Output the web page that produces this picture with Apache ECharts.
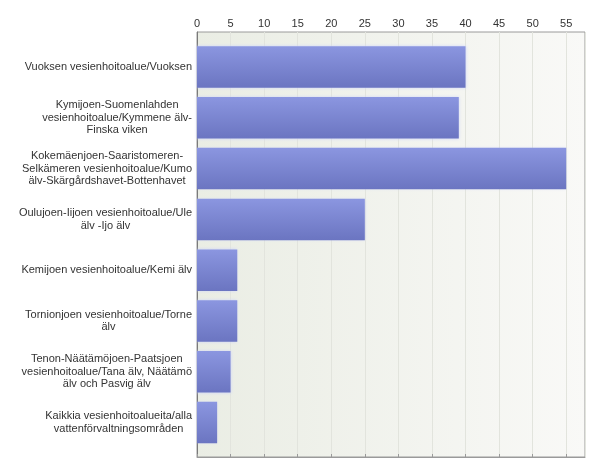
<!DOCTYPE html>
<html>
<head>
<meta charset="utf-8">
<script src="https://cdn.jsdelivr.net/npm/echarts@6/dist/echarts.min.js"></script>
<style>
  html, body { margin: 0; padding: 0; background: #fff; }
  #chart { width: 600px; height: 472px; }
</style>
</head>
<body>
<div id="chart"></div>
<script>
// category labels, already broken into lines as in the picture
var categories = [
  ['Vuoksen vesienhoitoalue/Vuoksen'],
  ['Kymijoen-Suomenlahden', 'vesienhoitoalue/Kymmene älv-', 'Finska viken'],
  ['Kokemäenjoen-Saaristomeren-', 'Selkämeren vesienhoitoalue/Kumo', 'älv-Skärgårdshavet-Bottenhavet'],
  ['Oulujoen-Iijoen vesienhoitoalue/Ule', 'älv -Ijo älv'],
  ['Kemijoen vesienhoitoalue/Kemi älv'],
  ['Tornionjoen vesienhoitoalue/Torne', 'älv'],
  ['Tenon-Näätämöjoen-Paatsjoen', 'vesienhoitoalue/Tana älv, Näätämö', 'älv och Pasvig älv'],
  ['Kaikkia vesienhoitoalueita/alla', 'vattenförvaltningsområden']
];
var values = [40, 39, 55, 25, 6, 6, 5, 3];

var font = '"Liberation Sans", Arial, sans-serif';
var axisMax = 57.8;

var chart = echarts.init(document.getElementById('chart'));

var option = {
  backgroundColor: '#ffffff',
  animation: false,
  grid: [
    {
      // frame + background + top axis
      left: 197, right: 15, top: 32, bottom: 15,
      show: true,
      borderColor: '#9a9a9a',
      borderWidth: 1,
      backgroundColor: new echarts.graphic.LinearGradient(0, 0, 1, 0, [
        { offset: 0, color: '#eaede4' },
        { offset: 1, color: '#f9f9f7' }
      ])
    },
    {
      // bars sit a bit inside the frame
      left: 197, right: 15, top: 41.6, height: 406.4
    }
  ],
  xAxis: [
    {
      gridIndex: 0,
      type: 'value',
      position: 'top',
      min: 0,
      max: axisMax,
      interval: 5,
      axisLine: { show: true, lineStyle: { color: '#9a9a9a' } },
      axisTick: { show: true, length: 3, lineStyle: { color: '#9a9a9a' } },
      axisLabel: {
        color: '#333',
        fontSize: 11,
        fontFamily: font,
        margin: 3,
        showMaxLabel: false
      },
      splitLine: { show: true, lineStyle: { color: '#e2e4dd', width: 1 } }
    },
    {
      gridIndex: 1,
      type: 'value',
      min: 0,
      max: axisMax,
      show: false
    }
  ],
  yAxis: [
    {
      gridIndex: 0,
      type: 'value',
      axisLine: { show: true, lineStyle: { color: '#7a7a7a' } },
      axisTick: { show: false },
      axisLabel: { show: false },
      splitLine: { show: false }
    },
    {
      gridIndex: 1,
      type: 'category',
      inverse: true,
      data: categories.map(function (c) { return c.join('\n'); }),
      axisLine: { show: false },
      axisTick: { show: false },
      axisLabel: {
        margin: 5,
        color: '#333',
        fontSize: 11,
        fontFamily: font,
        formatter: function (val) {
          return val.split('\n').map(function (l) { return '{c|' + l + '}'; }).join('\n');
        },
        rich: {
          c: {
            align: 'center',
            color: '#333',
            fontSize: 11,
            fontFamily: font,
            lineHeight: 12.5
          }
        }
      }
    }
  ],
  series: [
    {
      type: 'bar',
      xAxisIndex: 1,
      yAxisIndex: 1,
      data: values,
      barCategoryGap: '18.3%',
      itemStyle: {
        color: new echarts.graphic.LinearGradient(0, 0, 0, 1, [
          { offset: 0, color: '#8b96e0' },
          { offset: 1, color: '#6b75c1' }
        ]),
        shadowColor: 'rgba(205,212,250,0.9)',
        shadowBlur: 3
      }
    }
  ]
};

chart.setOption(option);
</script>
</body>
</html>
